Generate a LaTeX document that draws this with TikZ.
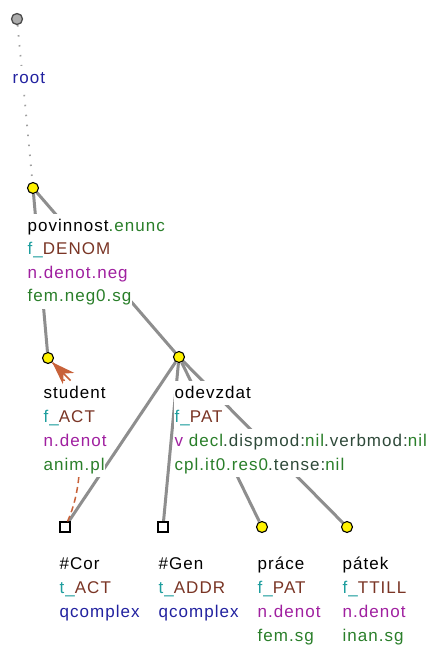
\documentclass[tikz,border=0pt]{standalone}
\usepackage{fontspec}
\setmainfont[LetterSpace=6]{Liberation Sans}
\usetikzlibrary{arrows.meta,backgrounds}
\definecolor{cteal}{HTML}{1E9E9E}
\definecolor{cbrown}{HTML}{7A3525}
\definecolor{cpurple}{HTML}{A020A0}
\definecolor{cgreen}{HTML}{2A7F2A}
\definecolor{cdark}{HTML}{2F4A3A}
\definecolor{cnavy}{HTML}{2222A0}
\definecolor{cedge}{HTML}{8E8E8E}
\definecolor{ccoref}{HTML}{C8623A}
\newcommand\tfunc[2]{\textcolor{cteal}{#1\_}\textcolor{cbrown}{#2}}
\begin{document}
\begin{tikzpicture}[x=1pt,y=-1pt,
  tnode/.style={circle, fill=yellow, draw=black, line width=1.1pt, minimum size=11pt, inner sep=0pt},
  qnode/.style={rectangle, fill=white, draw=black, line width=1.1pt, minimum size=10pt, inner sep=0pt},
  rootnode/.style={circle, fill=gray!65, draw=black!70, line width=1.3pt, minimum size=11pt, inner sep=0pt},
  lbl/.style={anchor=base west, fill=white, inner xsep=0.5pt, inner ysep=1.5pt, text height=15.5pt, text depth=5.5pt, font=\fontsize{17}{20}\selectfont},
  edge/.style={draw=cedge, line width=3pt},
  rootedge/.style={draw=gray!75, line width=1.8pt, dash pattern=on 1.5pt off 8.5pt},
  coref/.style={draw=ccoref, line width=1.5pt, dash pattern=on 6pt off 4pt},
  corefhead/.style={draw=ccoref, fill=ccoref, line width=1.5pt, -{Stealth[length=23pt,width=16pt,inset=7pt]}}
]
\useasboundingbox (0,0) rectangle (436,651);
% tree nodes
\node[rootnode] (root) at (17,19) {};
\node[tnode] (pov) at (33,188) {};
\node[tnode] (stu) at (48,358) {};
\node[tnode] (odv) at (179,357) {};
\node[qnode] (cor) at (65,527) {};
\node[qnode] (gen) at (163,527) {};
\node[tnode] (pra) at (262,527) {};
\node[tnode] (pat) at (347,527) {};
% edges
\begin{scope}[on background layer]
\fill[white] (0,0) rectangle (436,651);
\draw[rootedge] (root) -- (pov);
\draw[edge] (pov) -- (stu);
\draw[edge] (pov) -- (odv);
\draw[edge] (odv) -- (cor);
\draw[edge] (odv) -- (gen);
\draw[edge] (odv) -- (pra);
\draw[edge] (odv) -- (pat);
\end{scope}
% coreference (curve)
\draw[coref] (cor) .. controls (93,465) and (74,384) .. (stu);
% labels
\node[lbl] (root-a) at (12,83) {\textcolor{cnavy}{root}};

\node[lbl] (pov-a) at (27,231) {povinnost\textcolor{cgreen}{.enunc}};
\node[lbl] (pov-b) at (27,254.5) {\tfunc{f}{DENOM}};
\node[lbl] (pov-c) at (27,278) {\textcolor{cpurple}{n.denot.neg}};
\node[lbl] (pov-d) at (27,301.5) {\textcolor{cgreen}{fem.neg0.sg}};

\node[lbl] (stu-a) at (43,398) {student};
\node[lbl] (stu-b) at (43,422) {\tfunc{f}{ACT}};
\node[lbl] (stu-c) at (43,446) {\textcolor{cpurple}{n.denot}};
\node[lbl] (stu-d) at (43,470) {\textcolor{cgreen}{anim.pl}};

\node[lbl] (odv-a) at (174,398) {odevzdat};
\node[lbl] (odv-b) at (174,422) {\tfunc{f}{PAT}};
\node[lbl] (odv-c) at (174,446) {\textcolor{cpurple}{v} \textcolor{cgreen}{decl}\textcolor{cdark}{.dispmod:}\textcolor{cgreen}{nil}\textcolor{cdark}{.verbmod:}\textcolor{cgreen}{nil}};
\node[lbl] (odv-d) at (174,470) {\textcolor{cgreen}{cpl.it0.res0}\textcolor{cdark}{.tense:}\textcolor{cgreen}{nil}};

\node[lbl] (cor-a) at (59,569) {\#Cor};
\node[lbl] (cor-b) at (59,593) {\tfunc{t}{ACT}};
\node[lbl] (cor-c) at (59,617) {\textcolor{cnavy}{qcomplex}};

\node[lbl] (gen-a) at (158,569) {\#Gen};
\node[lbl] (gen-b) at (158,593) {\tfunc{t}{ADDR}};
\node[lbl] (gen-c) at (158,617) {\textcolor{cnavy}{qcomplex}};

\node[lbl] (pra-a) at (257,569) {práce};
\node[lbl] (pra-b) at (257,593) {\tfunc{f}{PAT}};
\node[lbl] (pra-c) at (257,617) {\textcolor{cpurple}{n.denot}};
\node[lbl] (pra-d) at (257,641) {\textcolor{cgreen}{fem.sg}};

\node[lbl] (pat-a) at (342,569) {pátek};
\node[lbl] (pat-b) at (342,593) {\tfunc{f}{TTILL}};
\node[lbl] (pat-c) at (342,617) {\textcolor{cpurple}{n.denot}};
\node[lbl] (pat-d) at (342,641) {\textcolor{cgreen}{inan.sg}};

% coreference arrowhead, drawn above the labels
\coordinate (crefend) at (70.5,380.5);
\draw[corefhead] (crefend) -- (stu);
\end{tikzpicture}
\end{document}
